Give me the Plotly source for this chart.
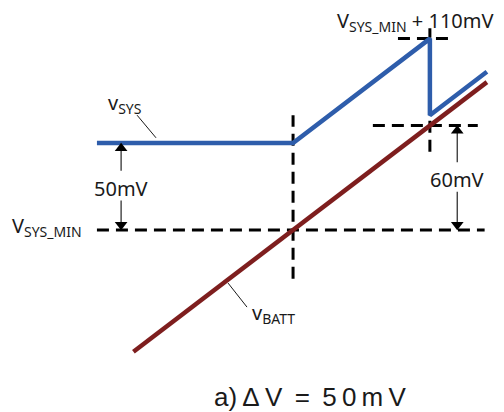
import plotly.graph_objects as go

# ---- data (time in arbitrary units, voltage in mV relative to VSYS_MIN) ----
t_batt = [-70, 85]
v_batt = [-70, 85]

t_sys = [-86, 0, 60, 60, 85]
v_sys = [50, 50, 110, 66, 91]

ref_levels = [0, 110, 60]               # VSYS_MIN, +110 mV, +60 mV
ref_spans = [(-86, 84), (46, 70), (35, 81)]
vert_times = [0, 60]
vert_spans = [(-28, 66), (45, 116)]

delta_labels = ["50mV", "60mV"]
delta_values = [50, 60]

BLUE = "#2E5DAB"
RED = "#7E1E1E"
TXT = "#1a1a1a"
ARR = "#333333"
FONT = "Noto Sans"

fig = go.Figure()

DASH = dict(color="black", width=3, dash="12px,7px")
for lvl, (a, b) in zip(ref_levels, ref_spans):
    fig.add_trace(go.Scatter(x=[a, b], y=[lvl, lvl], mode="lines", line=DASH,
                             hoverinfo="skip", showlegend=False))
for tv, (a, b) in zip(vert_times, vert_spans):
    fig.add_trace(go.Scatter(x=[tv, tv], y=[a, b], mode="lines", line=DASH,
                             hoverinfo="skip", showlegend=False))

# VBATT
fig.add_trace(go.Scatter(x=t_batt, y=v_batt, mode="lines",
                         line=dict(color=RED, width=4.5),
                         hoverinfo="skip", showlegend=False))
# VSYS
fig.add_trace(go.Scatter(x=t_sys, y=v_sys, mode="lines",
                         line=dict(color=BLUE, width=4.5),
                         hoverinfo="skip", showlegend=False))

# leader lines
fig.add_trace(go.Scatter(x=[-68.4, -60.1], y=[66, 53], mode="lines",
                         line=dict(color=TXT, width=1),
                         hoverinfo="skip", showlegend=False))
fig.add_trace(go.Scatter(x=[-28.5, -20.2], y=[-30.5, -44.3], mode="lines",
                         line=dict(color=TXT, width=1),
                         hoverinfo="skip", showlegend=False))

ann = []
arrow_t = [-75.4, 72]
text_v = [24, 29]
HEAD = 3.0  # half marker height in mV units
for lab, dv, tx, tv in zip(delta_labels, delta_values, arrow_t, text_v):
    # shafts
    fig.add_trace(go.Scatter(x=[tx, tx], y=[tv + 10, dv - HEAD], mode="lines",
                             line=dict(color=ARR, width=1.3),
                             hoverinfo="skip", showlegend=False))
    fig.add_trace(go.Scatter(x=[tx, tx], y=[tv - 7, HEAD], mode="lines",
                             line=dict(color=ARR, width=1.3),
                             hoverinfo="skip", showlegend=False))
    # heads
    fig.add_trace(go.Scatter(x=[tx, tx], y=[dv - HEAD, HEAD], mode="markers",
                             marker=dict(symbol=["triangle-up", "triangle-down"],
                                         size=11, color="black",
                                         line=dict(width=0)),
                             hoverinfo="skip", showlegend=False))
    ann.append(dict(x=tx, y=tv, xref="x", yref="y", text=lab, showarrow=False,
                    font=dict(family=FONT, size=20, color=TXT),
                    xanchor="center", yanchor="middle"))

ann.append(dict(x=-124, y=2, xref="x", yref="y",
                text="V<sub>SYS_MIN</sub>", showarrow=False,
                font=dict(family=FONT, size=20, color=TXT),
                xanchor="left", yanchor="middle"))
ann.append(dict(x=-73.5, y=73, xref="x", yref="y",
                text="v<sub>SYS</sub>", showarrow=False,
                font=dict(family=FONT, size=20, color=TXT),
                xanchor="center", yanchor="middle"))
ann.append(dict(x=18.4, y=120, xref="x", yref="y",
                text="V<sub>SYS_MIN</sub> + 110mV", showarrow=False,
                font=dict(family=FONT, size=20, color=TXT),
                xanchor="left", yanchor="middle"))
ann.append(dict(x=-19, y=-48, xref="x", yref="y",
                text="v<sub>BATT</sub>", showarrow=False,
                font=dict(family=FONT, size=20, color=TXT),
                xanchor="left", yanchor="middle"))
ann.append(dict(x=7.5, y=-95.8, xref="x", yref="y",
                text="a)\u2009\u0394\u2009V\u2009 =\u2009 5\u20090\u2009m\u2009V",
                showarrow=False, borderpad=0,
                font=dict(family="Liberation Sans", size=26, color=TXT),
                xanchor="center", yanchor="middle"))

# page body has an 8px margin: figure is 496x404 placed at (8, 8)
fig.update_layout(
    width=496, height=404,
    margin=dict(l=0, r=0, t=0, b=0),
    paper_bgcolor="white", plot_bgcolor="white",
    xaxis=dict(range=[-125.0, 92.5], visible=False, fixedrange=True),
    yaxis=dict(range=[-104.6, 127.6], visible=False, fixedrange=True),
    annotations=ann,
    showlegend=False,
)

fig.write_html("out.html")
